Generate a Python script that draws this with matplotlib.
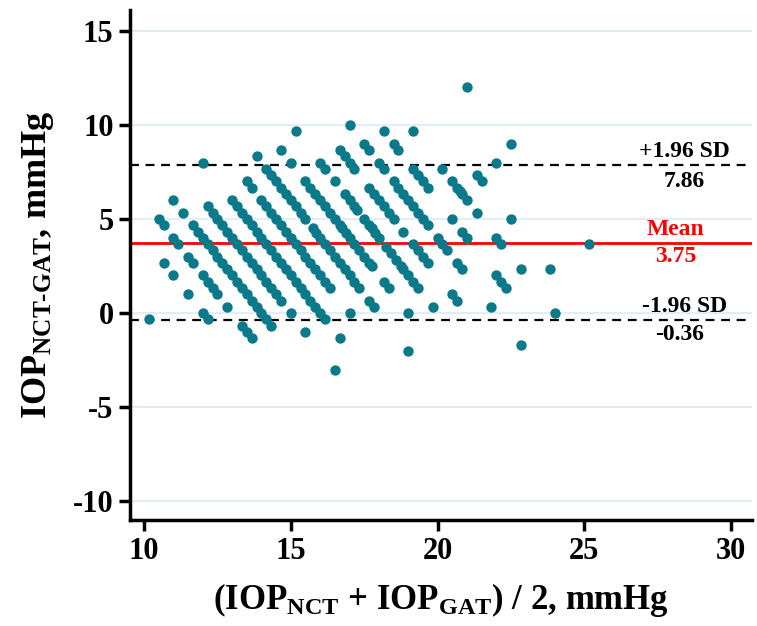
import numpy as np
import matplotlib
matplotlib.use("Agg")
import matplotlib.pyplot as plt

# NCT readings (mmHg) and, for each, the NCT-GAT differences
nct_levels = [10, 12, 13, 14, 15, 16, 17, 18, 19, 20, 21, 22, 23, 24, 25, 26, 27]

d10 = [-0.33]
d12 = [2.67, 2.0, 1.0, 0.0, -0.33]
d13 = [5.0, 4.67, 4.0, 3.67, 3.0, 2.67, 2.0, 1.67, 1.33, 1.0, 0.33, -0.67, -1.0, -1.33]
d14 = [6.0, 5.33, 4.67, 4.33, 4.0, 3.67, 3.33, 3.0, 2.67, 2.33, 2.0, 1.67, 1.33,
       1.0, 0.67, 0.33, 0.0, -0.33, -0.67]
d15 = [5.67, 5.33, 5.0, 4.67, 4.33, 4.0, 3.67, 3.33, 3.0, 2.67, 2.33, 2.0, 1.67,
       1.33, 1.0, 0.67, 0.0, -1.0, -3.0]
d16 = [8.0, 6.0, 5.67, 5.33, 5.0, 4.67, 4.33, 4.0, 3.67, 3.33, 3.0, 2.67, 2.33,
       2.0, 1.67, 1.33, 1.0, 0.67, 0.33, 0.0, -0.33, -1.33]
d17 = [7.0, 6.67, 6.0, 5.67, 5.33, 5.0, 4.67, 4.33, 4.0, 3.67, 3.33, 3.0, 2.67,
       2.33, 2.0, 1.67, 1.33, 0.0]
d18 = [8.33, 7.67, 7.33, 7.0, 6.67, 6.33, 6.0, 5.67, 5.33, 5.0, 4.5, 4.25, 4.0,
       3.67, 3.33, 3.0, 2.67, 2.33, 2.0, 1.67, 1.33, 0.67, 0.33, -2.0]
d19 = [8.67, 8.0, 7.0, 6.67, 6.33, 6.0, 5.67, 5.33, 5.0, 4.67, 4.5, 4.25, 4.0,
       3.67, 3.33, 3.0, 2.67, 2.5, 1.67, 1.33, 0.0]
d20 = [9.67, 8.0, 7.67, 7.0, 6.33, 6.0, 5.67, 5.5, 5.0, 4.67, 4.5, 4.25, 4.0,
       3.5, 3.17, 2.83, 2.5, 2.33, 2.0, 1.67, 1.33, 0.33]
d21 = [8.67, 8.33, 8.0, 7.67, 6.67, 6.33, 6.0, 5.67, 5.33, 5.0, 4.33, 3.67, 3.33,
       3.0, 2.67, 1.0, 0.67]
d22 = [10.0, 9.0, 8.67, 8.0, 7.67, 7.0, 6.67, 6.33, 6.0, 5.67, 5.33, 5.0, 4.67,
       4.0, 3.67, 3.33, 2.67, 2.33, 0.33, -1.67]
d23 = [9.67, 9.0, 8.67, 7.67, 7.33, 7.0, 6.67, 5.0, 4.33, 4.0, 2.0, 1.67, 1.33]
d24 = [9.67, 7.67, 7.0, 6.67, 6.5, 6.33, 6.0, 5.33, 4.0, 3.67, 2.33, 0.0]
d25 = [7.33, 7.0, 5.0, 2.33]
d26 = [8.0]
d27 = [12.0, 9.0, 3.67]

diff_lists = [d10, d12, d13, d14, d15, d16, d17, d18, d19, d20, d21, d22, d23,
              d24, d25, d26, d27]

mean_diff = 3.75
upper_loa = 7.86
lower_loa = -0.36

nct = np.concatenate([[n] * len(d) for n, d in zip(nct_levels, diff_lists)])
diff = np.concatenate(diff_lists)
gat = nct - diff
avg = (nct + gat) / 2

plt.rcParams["font.family"] = "Liberation Serif"
plt.rcParams["font.weight"] = "bold"
plt.rcParams["axes.labelweight"] = "bold"
plt.rcParams["axes.unicode_minus"] = False
plt.rcParams["mathtext.fontset"] = "custom"
plt.rcParams["mathtext.rm"] = "Liberation Serif:bold"
plt.rcParams["mathtext.bf"] = "Liberation Serif:bold"
plt.rcParams["mathtext.it"] = "Liberation Serif:bold"

fig = plt.figure(figsize=(7.57, 6.26), dpi=100)
ax = fig.add_axes([0.172, 0.169, 0.821, 0.815])

for y in [-10, -5, 0, 5, 10, 15]:
    ax.axhline(y, color="#e3edf8", linewidth=1.5, zorder=0)

ax.scatter(avg, diff, s=56, color="#0a7a8b", linewidths=0, zorder=3)

ax.axhline(mean_diff, color="#ff0000", linewidth=2, zorder=2)
ax.axhline(upper_loa, color="black", linewidth=1.6, linestyle=(0, (4, 3)), zorder=2)
ax.axhline(lower_loa, color="black", linewidth=1.6, linestyle=(0, (4, 3)), zorder=2)

tx = 28.4
ax.text(tx, upper_loa + 0.15, "+1.96 SD", ha="center", va="bottom", fontsize=17)
ax.text(tx, upper_loa - 0.3, f"{upper_loa:.2f}", ha="center", va="top", fontsize=17)
ax.text(tx - 0.3, mean_diff + 0.15, "Mean", ha="center", va="bottom", fontsize=17, color="#ff0000")
ax.text(tx - 0.3, mean_diff - 0.2, f"{mean_diff:.2f}", ha="center", va="top", fontsize=17, color="#ff0000")
ax.text(tx, lower_loa + 0.15, "-1.96 SD", ha="center", va="bottom", fontsize=17)
ax.text(tx - 0.15, lower_loa - 0.2, f"{lower_loa:.2f}", ha="center", va="top", fontsize=17)

ax.set_xlim(9.53, 30.7)
ax.set_ylim(-11, 16.1)
ax.set_xticks([10, 15, 20, 25, 30])
ax.set_yticks([-10, -5, 0, 5, 10, 15])

for side in ["top", "right"]:
    ax.spines[side].set_visible(False)
for side in ["left", "bottom"]:
    ax.spines[side].set_linewidth(2.5)
ax.tick_params(direction="out", length=8, width=2.5, labelsize=22, pad=4)

ax.set_xlabel(r"(IOP$_{\mathrm{NCT}}$ + IOP$_{\mathrm{GAT}}$) / 2, mmHg", fontsize=25, labelpad=11)
ax.set_ylabel(r"IOP$_{\mathrm{NCT\text{-}GAT}}$, mmHg", fontsize=26, labelpad=12)

fig.savefig("out.png", dpi=100)
